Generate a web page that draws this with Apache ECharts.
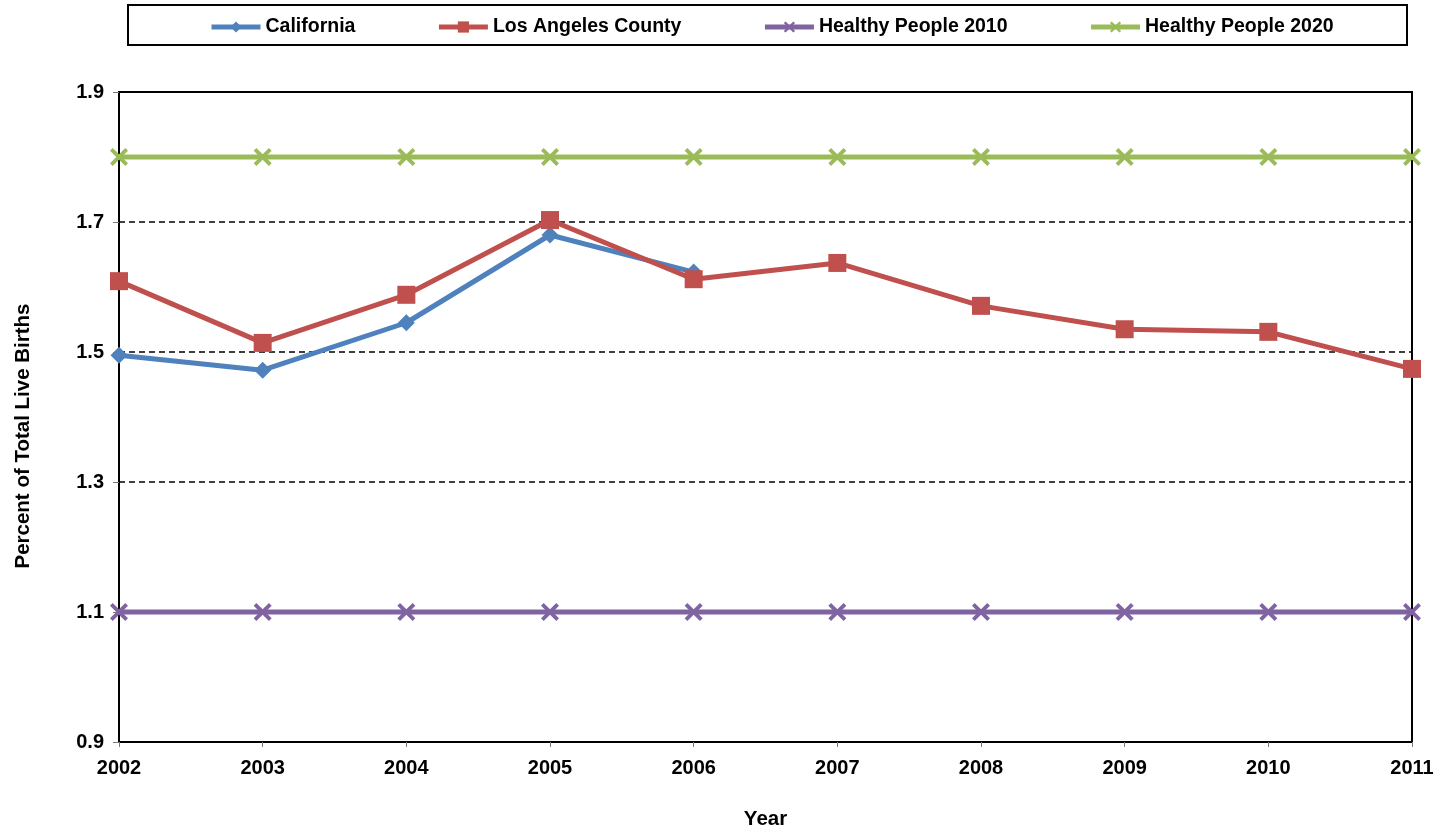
<!DOCTYPE html>
<html>
<head>
<meta charset="utf-8">
<script src="https://cdn.jsdelivr.net/npm/echarts@6/dist/echarts.min.js"></script>
<style>
    html, body { margin: 0; padding: 0; background: #fff; }
    #chart { width: 1442px; height: 831px; }
</style>
</head>
<body>
<div id="chart"></div>
<script>
    // values
    var years = ['2002', '2003', '2004', '2005', '2006', '2007', '2008', '2009', '2010', '2011'];
    var california = [1.495, 1.472, 1.545, 1.680, 1.623, null, null, null, null, null];
    var laCounty = [1.609, 1.514, 1.588, 1.703, 1.612, 1.637, 1.571, 1.535, 1.531, 1.474];
    var hp2010 = [1.1, 1.1, 1.1, 1.1, 1.1, 1.1, 1.1, 1.1, 1.1, 1.1];
    var hp2020 = [1.8, 1.8, 1.8, 1.8, 1.8, 1.8, 1.8, 1.8, 1.8, 1.8];
    var yMin = 0.9, yMax = 1.9, yStep = 0.2;

    var font = '"Liberation Sans", Arial, sans-serif';
    var xMark = 'path://M0,3 L3,0 L10,7 L17,0 L20,3 L13,10 L20,17 L17,20 L10,13 L3,20 L0,17 L7,10 Z';

    function lineSeries(name, data, color, symbol, size) {
        return {
            name: name,
            type: 'line',
            data: data,
            symbol: symbol,
            symbolSize: size,
            lineStyle: { color: color, width: 5 },
            itemStyle: { color: color },
            connectNulls: false
        };
    }

    var chart = echarts.init(document.getElementById('chart'));
    var option = {
        animation: false,
        backgroundColor: '#fff',
        textStyle: { fontFamily: font },
        graphic: [{
            type: 'rect',
            shape: { x: 128, y: 5, width: 1279, height: 40 },
            style: { fill: 'none', stroke: '#000', lineWidth: 2 }
        }, {
            // y axis title
            type: 'text',
            x: 23,
            y: 436,
            rotation: Math.PI / 2,
            style: {
                text: 'Percent of Total Live Births',
                font: 'bold 20.5px ' + font,
                fill: '#000',
                align: 'center',
                verticalAlign: 'middle'
            }
        }],
        legend: {
            top: 12,
            left: 204,
            itemGap: 81,
            itemWidth: 49,
            itemHeight: 14,
            lineStyle: { width: 5 },
            textStyle: { fontFamily: font, fontWeight: 'bold', fontSize: 19.5, color: '#000' },
            data: ['California', 'Los Angeles County', 'Healthy People 2010', 'Healthy People 2020']
        },
        grid: {
            left: 119, right: 30, top: 92, bottom: 89,
            outerBoundsMode: 'none',
            containLabel: false,
            show: true, borderColor: '#000', borderWidth: 2
        },
        xAxis: {
            type: 'category',
            data: years,
            boundaryGap: false,
            name: 'Year',
            nameLocation: 'middle',
            nameGap: 67,
            nameTextStyle: { fontFamily: font, fontWeight: 'bold', fontSize: 20.5, color: '#000' },
            axisLine: { lineStyle: { color: '#000', width: 2 } },
            axisTick: { show: true, length: 5, lineStyle: { color: '#777' } },
            axisLabel: { fontFamily: font, fontWeight: 'bold', fontSize: 20, color: '#000', margin: 16 }
        },
        yAxis: {
            type: 'value',
            min: yMin,
            max: yMax,
            interval: yStep,
            axisLine: { show: true, lineStyle: { color: '#000', width: 2 } },
            axisTick: { show: true, length: 6, lineStyle: { color: '#777' } },
            axisLabel: {
                fontFamily: font, fontWeight: 'bold', fontSize: 20, color: '#000', margin: 15,
                formatter: function (v) { return v.toFixed(1); }
            },
            splitLine: { show: true, lineStyle: { color: '#000', width: 1.5, type: [6, 4] } }
        },
        series: [
            lineSeries('Healthy People 2010', hp2010, '#8064A2', xMark, 18),
            lineSeries('Healthy People 2020', hp2020, '#9BBB59', xMark, 18),
            lineSeries('California', california, '#4F81BD', 'diamond', 17),
            lineSeries('Los Angeles County', laCounty, '#C0504D', 'rect', 18)
        ]
    };
    chart.setOption(option);
</script>
</body>
</html>
